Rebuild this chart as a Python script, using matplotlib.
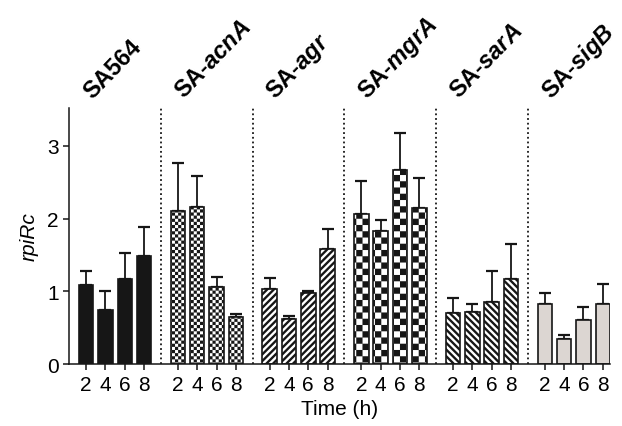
import numpy as np
import matplotlib
matplotlib.use('Agg')
import matplotlib.pyplot as plt
from matplotlib import hatch as mhatch
from matplotlib.path import Path

# values (rpiRc, mean and upper SD)
hours = ['2', '4', '6', '8']
titles = ['SA564', r'SA-$\mathbfit{acnA}$', r'SA-$\mathbfit{agr}$',
          r'SA-$\mathbfit{mgrA}$', r'SA-$\mathbfit{sarA}$', r'SA-$\mathbfit{sigB}$']
sa564 = [1.09, 0.74, 1.17, 1.48]
sa564_err = [0.19, 0.27, 0.35, 0.41]
acna = [2.10, 2.16, 1.06, 0.65]
acna_err = [0.66, 0.43, 0.13, 0.04]
agr = [1.03, 0.62, 0.97, 1.58]
agr_err = [0.15, 0.04, 0.04, 0.28]
mgra = [2.06, 1.83, 2.66, 2.14]
mgra_err = [0.45, 0.15, 0.52, 0.42]
sara = [0.70, 0.72, 0.85, 1.17]
sara_err = [0.21, 0.11, 0.43, 0.48]
sigb = [0.83, 0.35, 0.60, 0.83]
sigb_err = [0.14, 0.05, 0.18, 0.27]


# checkerboard hatch: 'O' -> coarse, 'OO' -> fine
class CheckerHatch(mhatch.Shapes):
    filled = True
    size = 1.0
    cells = [(i, j) for i in range(-2, 2) for j in range(-2, 2) if (i + j) % 2 == 0]
    shape_vertices = np.concatenate([
        np.array([[i, j], [i + 1, j], [i + 1, j + 1], [i, j + 1], [i, j]], float) * 0.25
        for i, j in cells])
    shape_codes = np.tile([Path.MOVETO, Path.LINETO, Path.LINETO, Path.LINETO,
                           Path.CLOSEPOLY], len(cells)).astype(Path.code_type)

    def __init__(self, hatch, density):
        self.num_rows = hatch.count('O') * 4
        super().__init__(hatch, density)


mhatch._hatch_types[:] = [t for t in mhatch._hatch_types
                          if t is not mhatch.LargeCircles] + [CheckerHatch]

plt.rcParams['font.family'] = ['Liberation Sans', 'DejaVu Sans']
plt.rcParams['mathtext.fontset'] = 'custom'
plt.rcParams['mathtext.rm'] = 'Liberation Sans'
plt.rcParams['mathtext.it'] = 'Liberation Sans:italic'
plt.rcParams['mathtext.bf'] = 'Liberation Sans:bold'
plt.rcParams['mathtext.bfit'] = 'Liberation Sans:bold:italic'

fig = plt.figure(figsize=(6.22, 4.27), dpi=100)
ax = fig.add_axes([0.111, 0.145, 0.870, 0.600])

step = 4.74
dark = '#161616'
groups = [(sa564, sa564_err), (acna, acna_err), (agr, agr_err),
          (mgra, mgra_err), (sara, sara_err), (sigb, sigb_err)]


def set_hlw(bars, lw):
    for b in bars:
        if hasattr(b, 'set_hatch_linewidth'):
            b.set_hatch_linewidth(lw)


xs_all = []
for g, (vals, err) in enumerate(groups):
    x = g * step + np.arange(4)
    xs_all.extend(x)
    ax.errorbar(x, vals, yerr=[np.zeros(4), err], fmt='none', ecolor=dark,
                elinewidth=1.3, capsize=4, capthick=1.6, zorder=1)
    if g == 0:
        ax.bar(x, vals, 0.75, color=dark, edgecolor=dark, lw=1.2, zorder=2)
    elif g in (1, 3):
        with plt.rc_context({'hatch.linewidth': 0.05}):
            bars = ax.bar(x, vals, 0.75, color='white', edgecolor=dark, lw=1.2,
                          hatch='OO' if g == 1 else 'O', zorder=2)
        set_hlw(bars, 0.05)
    elif g in (2, 4):
        with plt.rc_context({'hatch.linewidth': 1.7}):
            bars = ax.bar(x, vals, 0.75, color=dark, edgecolor='white', lw=0,
                          hatch='/////' if g == 2 else '\\\\\\\\\\', zorder=2)
        set_hlw(bars, 1.7)
        ax.bar(x, vals, 0.75, fill=False, edgecolor=dark, lw=1.2, zorder=3)
    else:
        ax.bar(x, vals, 0.75, color='#dcd6d2', edgecolor=dark, lw=1.2, zorder=2)
    ax.text(g * step + 0.3, 1.035, titles[g], transform=ax.get_xaxis_transform(),
            rotation=46, rotation_mode='anchor', ha='left', va='baseline',
            fontsize=17, fontweight='bold')
    if g > 0:
        ax.axvline(g * step - (step - 3) / 2, color=dark, lw=1.3,
                   ls=(0, (1, 1.6)), zorder=0)

ax.set_xlim(-0.88, 5 * step + 3.38)
ax.set_ylim(0, 3.52)
ax.set_xticks(xs_all)
ax.set_xticklabels(hours * 6)
ax.set_yticks([0, 1, 2, 3])
ax.tick_params(labelsize=15, length=4.5, width=1.1, color=dark, pad=3)
for s in ['top', 'right']:
    ax.spines[s].set_visible(False)
for s in ['left', 'bottom']:
    ax.spines[s].set_linewidth(1.1)
    ax.spines[s].set_color(dark)
ax.set_ylabel('rpiRc', fontsize=15, fontstyle='italic', labelpad=6)
ax.set_xlabel('Time (h)', fontsize=15, labelpad=4)

fig.savefig('out.png', dpi=100)
